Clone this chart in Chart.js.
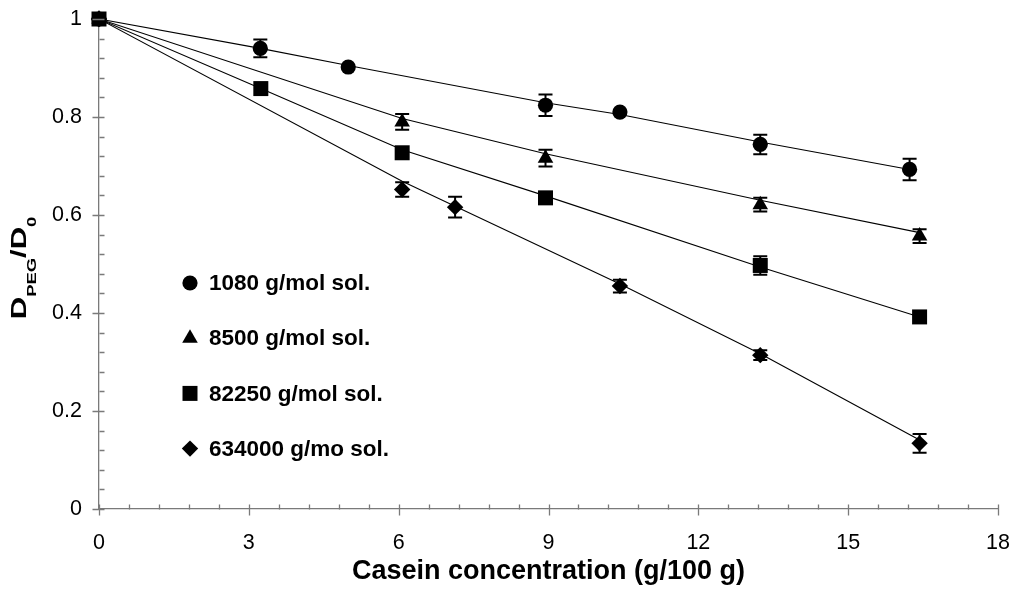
<!DOCTYPE html>
<html>
<head>
<meta charset="utf-8">
<script src="https://cdn.jsdelivr.net/npm/chart.js@4.4.0/dist/chart.umd.min.js"></script>
<style>
  html, body { margin: 0; padding: 0; background: #fff; }
</style>
</head>
<body>
<canvas id="myChart" width="1013" height="589"></canvas>
<script>
// Casein concentration (g/100 g) and D_PEG/D0 for each PEG molar mass
const concCircle = [0, 3.23, 4.99, 8.94, 10.43, 13.24, 16.23];
const dCircle = [1.0, 0.940, 0.902, 0.824, 0.810, 0.744, 0.693];
const errCircle = [0, 0.018, 0, 0.022, 0, 0.020, 0.022];
const fitCircle = [1.0, 0.940, 0.905, 0.829, 0.805, 0.749, 0.693];

const concTriangle = [0, 6.07, 8.94, 13.24, 16.43];
const dTriangle = [1.0, 0.790, 0.716, 0.621, 0.557];
const errTriangle = [0, 0.016, 0.017, 0.014, 0.014];
const fitTriangle = [1.0, 0.797, 0.725, 0.630, 0.564];

const concSquare = [0, 3.24, 6.07, 8.94, 13.24, 16.43];
const dSquare = [1.0, 0.858, 0.727, 0.635, 0.497, 0.392];
const errSquare = [0, 0, 0, 0, 0.019, 0];
const fitSquare = [1.0, 0.858, 0.733, 0.639, 0.494, 0.392];

const concDiamond = [0, 6.07, 7.13, 10.43, 13.24, 16.43];
const dDiamond = [1.0, 0.652, 0.616, 0.455, 0.314, 0.134];
const errDiamond = [0, 0.015, 0.021, 0.013, 0.010, 0.019];
const fitDiamond = [1.0, 0.669, 0.618, 0.459, 0.317, 0.141];

const seriesLabels = ["1080 g/mol sol.", "8500 g/mol sol.", "82250 g/mol sol.", "634000 g/mo sol."];
const xTicks = [0, 3, 6, 9, 12, 15, 18];
const yTicks = [0, 0.2, 0.4, 0.6, 0.8, 1];

const FONT = "'Liberation Sans', Arial, sans-serif";
const axisColor = "#7a7a7a";

const toPoints = (xs, ys) => xs.map((x, i) => ({ x: x, y: ys[i] }));

function markers(label, xs, ys, errs, style, radius, order) {
    return {
        label: label,
        data: toPoints(xs, ys),
        errors: errs,
        showLine: false,
        clip: false,
        pointStyle: style,
        pointRadius: radius,
        pointHoverRadius: radius,
        backgroundColor: "#000",
        borderColor: "#000",
        borderWidth: 0,
        order: order
    };
}

function fitLine(xs, ys) {
    return {
        data: toPoints(xs, ys),
        showLine: true,
        pointRadius: 0,
        borderColor: "#000",
        borderWidth: 1.1,
        tension: 0,
        order: 10
    };
}

// error bars with caps
const errorBars = {
    id: "errorBars",
    afterDatasetsDraw(chart) {
        const { ctx, scales: { x, y } } = chart;
        ctx.save();
        ctx.strokeStyle = "#000";
        ctx.lineWidth = 2;
        chart.data.datasets.forEach(ds => {
            if (!ds.errors) return;
            ds.data.forEach((p, i) => {
                const e = ds.errors[i];
                if (!e) return;
                const px = x.getPixelForValue(p.x);
                const top = y.getPixelForValue(p.y + e);
                const bot = y.getPixelForValue(p.y - e);
                ctx.beginPath();
                ctx.moveTo(px, top); ctx.lineTo(px, bot);
                ctx.moveTo(px - 7, top); ctx.lineTo(px + 7, top);
                ctx.moveTo(px - 7, bot); ctx.lineTo(px + 7, bot);
                ctx.stroke();
            });
        });
        ctx.restore();
    }
};

// major ticks cross the axis, minor ticks point inward
const axisTicks = {
    id: "axisTicks",
    afterDraw(chart) {
        const { ctx, scales: { x, y } } = chart;
        const x0 = Math.round(x.getPixelForValue(0)) + 0.5;
        const y0 = Math.round(y.getPixelForValue(0)) + 0.5;
        ctx.save();
        ctx.strokeStyle = axisColor;
        ctx.lineWidth = 1.3;
        ctx.beginPath();
        for (let i = 0; i <= 30; i++) {
            const px = Math.round(x.getPixelForValue(i * 0.6)) + 0.5;
            ctx.moveTo(px, y0 - 5);
            ctx.lineTo(px, i % 5 === 0 ? y0 + 6 : y0);
        }
        for (let i = 0; i <= 25; i++) {
            const py = Math.round(y.getPixelForValue(i * 0.04)) + 0.5;
            ctx.moveTo(i % 5 === 0 ? x0 - 7 : x0, py);
            ctx.lineTo(x0 + 5, py);
        }
        ctx.stroke();
        ctx.restore();
    }
};

// y axis title with subscripts
const yTitle = {
    id: "yTitle",
    afterDraw(chart) {
        const ctx = chart.ctx;
        const parts = [
            { t: "D", sub: false }, { t: "PEG", sub: true },
            { t: "/D", sub: false }, { t: "0", sub: true }
        ];
        const fontFor = p => p.sub ? "bold 16px " + FONT : "bold 27px " + FONT;
        ctx.save();
        let total = 0;
        parts.forEach(p => { ctx.font = fontFor(p); total += ctx.measureText(p.t).width; });
        ctx.translate(26, 268);
        ctx.rotate(-Math.PI / 2);
        ctx.scale(1.15, 0.8);
        ctx.fillStyle = "#000";
        ctx.textBaseline = "alphabetic";
        let cx = -total / 2;
        parts.forEach(p => {
            ctx.font = fontFor(p);
            ctx.fillText(p.t, cx, p.sub ? 12 : 0);
            cx += ctx.measureText(p.t).width;
        });
        ctx.restore();
    }
};

// legend inside the plot area
const innerLegend = {
    id: "innerLegend",
    afterDraw(chart) {
        const ctx = chart.ctx;
        const rows = chart.data.datasets.filter(ds => ds.label);
        ctx.save();
        ctx.fillStyle = "#000";
        ctx.font = "bold 22.5px " + FONT;
        ctx.textBaseline = "middle";
        rows.forEach((ds, i) => {
            const ly = 283 + i * 55.2;
            Chart.helpers.drawPoint(ctx, {
                pointStyle: ds.pointStyle, radius: ds.pointRadius, rotation: 0, borderWidth: 0
            }, 190, ly);
            ctx.fillText(ds.label, 209, ly + 1);
        });
        ctx.restore();
    }
};

// keep edge tick labels from pushing the plot area inward
function fixSize(prop, size) {
    return s => {
        s[prop] = size;
        s.paddingTop = s.paddingBottom = s.paddingLeft = s.paddingRight = 0;
    };
}

const ctx = document.getElementById("myChart").getContext("2d");

new Chart(ctx, {
    type: "scatter",
    data: {
        datasets: [
            markers(seriesLabels[0], concCircle, dCircle, errCircle, "circle", 7.6, 3),
            markers(seriesLabels[1], concTriangle, dTriangle, errTriangle, "triangle", 9, 2),
            markers(seriesLabels[2], concSquare, dSquare, errSquare, "rect", 10.6, 0),
            markers(seriesLabels[3], concDiamond, dDiamond, errDiamond, "rectRot", 8.2, 1),
            fitLine(concCircle, fitCircle),
            fitLine(concTriangle, fitTriangle),
            fitLine(concSquare, fitSquare),
            fitLine(concDiamond, fitDiamond)
        ]
    },
    options: {
        responsive: false,
        animation: false,
        layout: { autoPadding: false, padding: { top: 19, right: 15, left: 0, bottom: 0 } },
        plugins: {
            legend: { display: false },
            tooltip: { enabled: false }
        },
        scales: {
            x: {
                type: "linear",
                min: xTicks[0],
                max: xTicks[xTicks.length - 1],
                afterBuildTicks: s => { s.ticks = xTicks.map(v => ({ value: v })); },
                afterFit: fixSize("height", 80),
                grid: { display: false, drawTicks: false },
                border: { display: true, color: axisColor, width: 1.3 },
                ticks: { color: "#000", font: { family: FONT, size: 21.5 }, padding: 21, maxRotation: 0,
                         callback: v => String(v) },
                title: {
                    display: true,
                    text: "Casein concentration (g/100 g)",
                    color: "#000",
                    font: { family: FONT, size: 27, weight: "bold" },
                    padding: { top: 0, bottom: 1 }
                }
            },
            y: {
                min: yTicks[0],
                max: yTicks[yTicks.length - 1],
                afterBuildTicks: s => { s.ticks = yTicks.map(v => ({ value: v })); },
                afterFit: fixSize("width", 99),
                grid: { display: false, drawTicks: false },
                border: { display: true, color: axisColor, width: 1.3 },
                ticks: { color: "#000", font: { family: FONT, size: 21.5 }, padding: 17,
                         callback: v => String(v) }
            }
        }
    },
    plugins: [axisTicks, errorBars, yTitle, innerLegend]
});
</script>
</body>
</html>
